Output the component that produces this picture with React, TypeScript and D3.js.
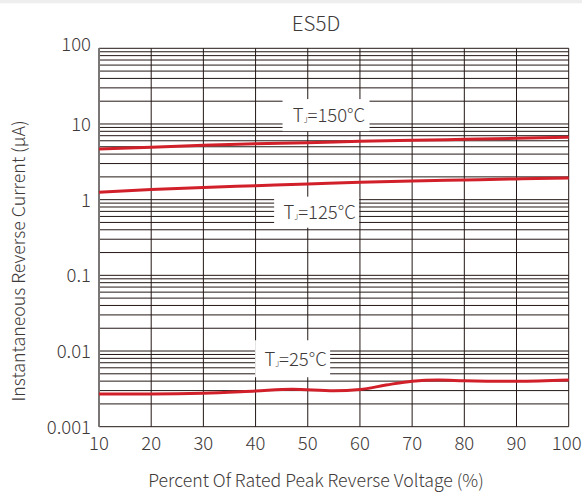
import React from "react";
import * as d3 from "d3";

const W = 582;
const H = 492;

const title = "ES5D";
const xLabel = "Percent Of Rated Peak Reverse Voltage (%)";
const yLabel = "Instantaneous Reverse Current (μA)";

const xTicks = [10, 20, 30, 40, 50, 60, 70, 80, 90, 100];
const yTicks = [0.001, 0.01, 0.1, 1, 10, 100];
const yTickLabels = ["0.001", "0.01", "0.1", "1", "10", "100"];

const x150 = [10, 20, 30, 40, 50, 60, 70, 80, 90, 100];
const tj150 = [4.67, 4.92, 5.23, 5.49, 5.66, 5.9, 6.1, 6.27, 6.47, 6.67];
const x125 = [10, 20, 30, 40, 50, 60, 70, 80, 90, 100];
const tj125 = [1.25, 1.36, 1.45, 1.53, 1.61, 1.7, 1.77, 1.82, 1.88, 1.93];
const x25 = [10, 20, 30, 40, 47, 55, 60, 65, 70, 75, 80, 90, 100];
const tj25 = [0.0027, 0.0027, 0.00276, 0.00296, 0.00312, 0.00298, 0.0031, 0.00355, 0.004, 0.00414, 0.00405, 0.00398, 0.00414];

const labelTemps = ["150°C", "125°C", "25°C"];
const labelX = [53.5, 51.7, 47.1];
const labelY = [13.1, 0.684, 0.0079];

const x = d3.scaleLinear().domain([10, 100]).range([99, 568.7]);
const y = d3.scaleLog().domain([0.001, 100]).range([426.7, 48.3]);

const gridColor = "#231815";
const textColor = "#3e3a39";
const red = "#d1202a";
const font = "'Noto Sans CJK SC', 'Noto Sans', sans-serif";

function minorValues(): number[] {
  const out: number[] = [];
  for (let e = -3; e < 2; e++) {
    for (let m = 1; m <= 9; m++) out.push(m * Math.pow(10, e));
  }
  out.push(100);
  return out;
}

export default function App() {
  const line = d3
    .line<[number, number]>()
    .x((d) => x(d[0]))
    .y((d) => y(d[1]))
    .curve(d3.curveMonotoneX);

  const series = [
    x150.map((v, i) => [v, tj150[i]] as [number, number]),
    x125.map((v, i) => [v, tj125[i]] as [number, number]),
    x25.map((v, i) => [v, tj25[i]] as [number, number]),
  ];

  const boxW = [87, 85, 75];
  const boxH = [32, 31, 37];

  const [x0, x1] = x.range();
  const [y0, y1] = y.range();

  return (
    <svg
      width={W}
      height={H}
      style={{ position: "absolute", left: 0, top: 0, background: "#fff" }}
      fontFamily={font}
      fontWeight={300}
    >
      <rect x={0} y={0} width={W} height={3.3} fill="#eeeeee" />
      <text x={316} y={22} textAnchor="middle" dominantBaseline="central" fontSize={20.5} fill={textColor}>
        {title}
      </text>

      {/* horizontal grid */}
      {minorValues().map((v, i) => (
        <line key={"h" + i} x1={x0} x2={x1} y1={y(v)} y2={y(v)} stroke={gridColor} strokeWidth={1} />
      ))}
      {/* vertical grid */}
      {xTicks.map((v) => (
        <line key={"v" + v} x1={x(v)} x2={x(v)} y1={y1} y2={y0} stroke={gridColor} strokeWidth={1} />
      ))}
      <line x1={x0} x2={x0} y1={y1} y2={y0} stroke="#7a7675" strokeWidth={2} />

      {/* label boxes */}
      {labelTemps.map((t, i) => {
        const cx = x(labelX[i]);
        const cy = y(labelY[i]);
        return (
          <g key={"lb" + i}>
            <rect x={cx - boxW[i] / 2} y={cy - boxH[i] / 2} width={boxW[i]} height={boxH[i]} fill="#fff" />
            <text x={cx + 3} y={cy - 1} textAnchor="middle" dominantBaseline="central" fontSize={18.5} fill={textColor}>
              <tspan>T</tspan>
              <tspan fontSize={7.5} dy={5}>J</tspan>
              <tspan dy={-5}>={t}</tspan>
            </text>
          </g>
        );
      })}

      {/* curves */}
      {series.map((s, i) => (
        <path key={"s" + i} d={line(s) || ""} fill="none" stroke={red} strokeWidth={3} />
      ))}

      {/* y tick labels */}
      {yTicks.map((v, i) => (
        <text
          key={"yt" + v}
          x={91}
          y={y(v) - (v === 100 ? 5 : 1)}
          textAnchor="end"
          dominantBaseline="central"
          fontSize={18.5}
          fill={textColor}
        >
          {yTickLabels[i]}
        </text>
      ))}
      {/* x tick labels */}
      {xTicks.map((v) => (
        <text
          key={"xt" + v}
          x={x(v) - (v === 100 ? 2 : 0)}
          y={442}
          textAnchor="middle"
          dominantBaseline="central"
          fontSize={18.5}
          fill={textColor}
        >
          {v}
        </text>
      ))}

      <text x={316} y={479} textAnchor="middle" dominantBaseline="central" fontSize={17.7} fill={textColor}>
        {xLabel}
      </text>
      <text
        transform={`translate(17,261) rotate(-90)`}
        textAnchor="middle"
        dominantBaseline="central"
        fontSize={17.8}
        fill={textColor}
      >
        {yLabel}
      </text>
    </svg>
  );
}
